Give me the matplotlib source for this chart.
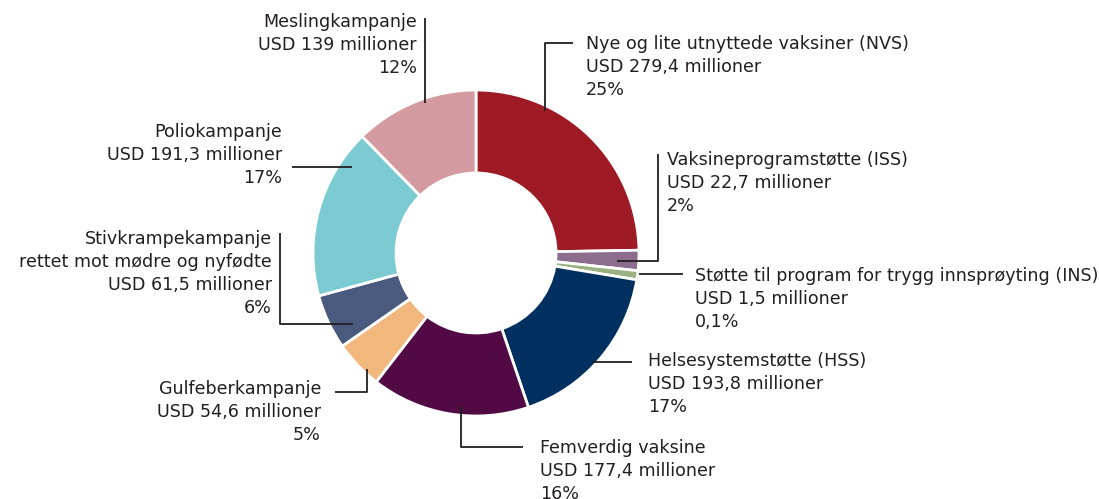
import numpy as np
import matplotlib.pyplot as plt

W, H = 1099, 499

# data (clockwise from 12 o'clock)
names = ["Nye og lite utnyttede vaksiner (NVS)",
         "Vaksineprogramstøtte (ISS)",
         "Støtte til program for trygg innsprøyting (INS)",
         "Helsesystemstøtte (HSS)",
         "Femverdig vaksine",
         "Gulfeberkampanje",
         "Stivkrampekampanje\nrettet mot mødre og nyfødte",
         "Poliokampanje",
         "Meslingkampanje"]
values = [279.4, 22.7, 1.5, 193.8, 177.4, 54.6, 61.5, 191.3, 139]
pcts = ["25%", "2%", "0,1%", "17%", "16%", "5%", "6%", "17%", "12%"]
colors = ["#9E1B25", "#8C6D8E", "#9AB282", "#00305F", "#510A43",
          "#F1B77C", "#4A5A7E", "#7CCBD3", "#D39AA0"]

# label layout in pixels: x, y of first line, alignment
label_pos = [(586, 44, "left"), (667, 160, "left"), (695, 276, "left"),
             (648, 361, "left"), (540, 448, "left"), (321, 389, "right"),
             (272, 239, "right"), (282, 132, "right"), (417, 22, "right")]
# leader lines in pixels
leaders = [[(545, 111), (545, 43), (573, 43)],
           [(617, 261), (658, 261), (658, 154)],
           [(639, 274), (683, 274)],
           [(592, 362), (632, 362)],
           [(461, 406), (461, 447), (523, 447)],
           [(367, 369), (367, 392), (335, 392)],
           [(280, 233), (280, 324), (353, 324)],
           [(352, 167), (292, 167)],
           [(425, 18), (425, 103)]]

cx, cy, r_out, r_in = 476, 253, 163, 80
line_h = 23
txt_col = "#231F20"

plt.rcParams['font.family'] = ['DejaVu Sans']

fig = plt.figure(figsize=(W / 100, H / 100), dpi=100)
ax = fig.add_axes([0, 0, 1, 1])

# tiny slices get a minimum visible width, like the original
total = sum(values)
shown = np.maximum(values, total * 0.009)

ax.pie(shown, colors=colors, startangle=90, counterclock=False,
       center=(cx, H - cy), radius=r_out,
       wedgeprops=dict(width=r_out - r_in, edgecolor="white", linewidth=2))

for i in range(len(names)):
    x, y, ha = label_pos[i]
    v = f"{values[i]:g}".replace(".", ",")
    lines = names[i].split("\n") + ["USD " + v + " millioner", pcts[i]]
    for j, t in enumerate(lines):
        ax.text(x, H - (y + j * line_h), t, ha=ha, va="center",
                fontsize=12.6, color=txt_col)
    pts = np.array(leaders[i])
    ax.plot(pts[:, 0], H - pts[:, 1], color=txt_col, lw=1.3,
            solid_capstyle="butt")

ax.set_xlim(0, W)
ax.set_ylim(0, H)
ax.set_aspect("equal")
ax.axis("off")

fig.savefig("out.png", dpi=100)
